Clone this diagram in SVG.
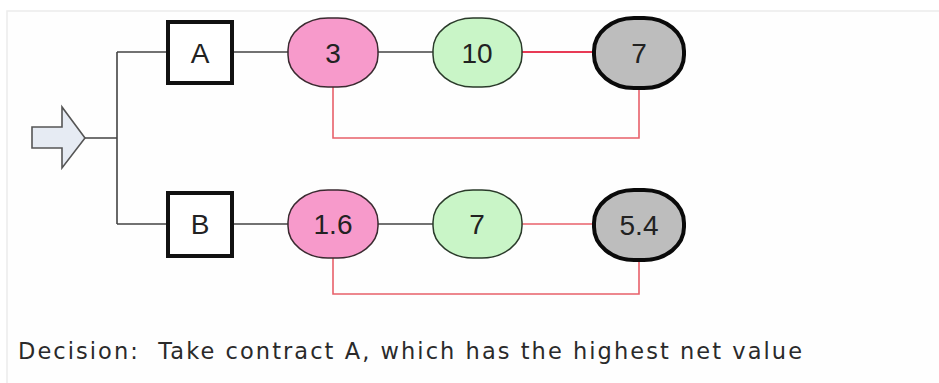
<svg xmlns="http://www.w3.org/2000/svg" width="939" height="383" viewBox="0 0 939 383">
<style>
.lbl{font-family:"Liberation Sans",Arial,sans-serif;font-size:28px;fill:#222;text-anchor:middle;dominant-baseline:central}
.box{fill:#fff;stroke:#111;stroke-width:4}
.pink{fill:#f79acb;stroke:#3a2a30;stroke-width:1.5}
.green{fill:#c9f5c7;stroke:#2a3a2a;stroke-width:1.5}
.gray{fill:#bdbdbd;stroke:#0a0a0a;stroke-width:4}
.ln{fill:none;stroke:#444;stroke-width:1.6}
.red{fill:none;stroke:#e8606a;stroke-width:1.6}
.redb{fill:none;stroke:#e83a55;stroke-width:2.2}
.cap{font-family:"DejaVu Sans",Verdana,sans-serif;font-size:22.5px;fill:#2a2a2a;white-space:pre}
</style>
<rect x="0" y="0" width="939" height="383" fill="#fff"/>
<rect x="7" y="11" width="940" height="380" fill="#fefefe" stroke="#ececec" stroke-width="1.5"/>
<g id="connectors">
<path class="ln" d="M85,138 H117 M117,52 V224 M117,52 H168 M117,224 H168"/>
<path class="ln" d="M232,52 H288 M378,52 H433"/>
<path class="redb" d="M522,52 H594"/>
<path class="red" d="M333,87 V138 H639 V88"/>
<path class="ln" d="M232,224 H288 M378,224 H433"/>
<path class="red" d="M522,224 H594"/>
<path class="red" d="M333,258 V294 H639 V260"/>
</g>
<g id="start">
<polygon points="32,127 62,127 62,107 85,138 62,168 62,148 32,148" fill="#e6ebf3" stroke="#555" stroke-width="1.6"/>
</g>
<g id="boxA"><rect class="box" x="168" y="22" width="64" height="61"/><text class="lbl" x="200" y="53">A</text></g>
<g id="a3"><rect class="pink" x="288" y="18" width="90" height="69" rx="40" ry="32"/><text class="lbl" x="333" y="53">3</text></g>
<g id="a10"><rect class="green" x="433" y="18" width="89" height="69" rx="40" ry="32"/><text class="lbl" x="477" y="53">10</text></g>
<g id="a7"><rect class="gray" x="594" y="18" width="90" height="70" rx="40" ry="33"/><text class="lbl" x="639" y="53">7</text></g>
<g id="boxB"><rect class="box" x="168" y="193" width="64" height="63"/><text class="lbl" x="200" y="224">B</text></g>
<g id="b16"><rect class="pink" x="288" y="190" width="90" height="68" rx="40" ry="32"/><text class="lbl" x="333" y="224">1.6</text></g>
<g id="b7"><rect class="green" x="433" y="190" width="89" height="68" rx="40" ry="32"/><text class="lbl" x="477" y="224">7</text></g>
<g id="b54"><rect class="gray" x="594" y="190" width="90" height="70" rx="40" ry="33"/><text class="lbl" x="639" y="225">5.4</text></g>
<text class="cap" x="18" y="359" xml:space="preserve" textLength="784" lengthAdjust="spacing">Decision:  Take contract A, which has the highest net value</text>
</svg>
